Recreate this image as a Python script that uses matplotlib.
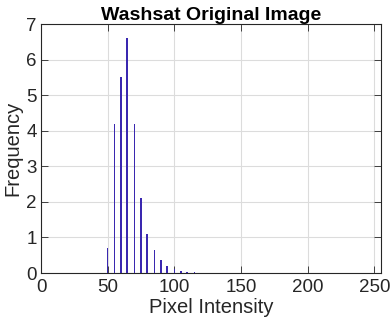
import numpy as np
import matplotlib
matplotlib.use("Agg")
import matplotlib.pyplot as plt

# Histogram bins (pixel intensity) and frequencies
intensity = [45, 50, 55, 60, 64, 65, 70, 75, 79, 80, 85, 90, 94, 95,
             100, 105, 109, 110, 115, 120, 125]
frequency = [0.01, 0.70, 4.20, 5.50, 6.60, 6.60, 4.20, 2.10, 1.10, 1.10,
             0.65, 0.37, 0.20, 0.20, 0.11, 0.06, 0.04, 0.04, 0.02, 0.01, 0.01]

x_ticks = [0, 50, 100, 150, 200, 250]
y_ticks = [0, 1, 2, 3, 4, 5, 6, 7]

plt.rcParams["font.family"] = ["Liberation Sans", "DejaVu Sans"]
text_color = "#262626"

fig = plt.figure(figsize=(3.92, 3.27), dpi=100)
ax = fig.add_axes([0.1046, 0.1651, 0.8674, 0.7615])

ax.bar(intensity, frequency, width=1.0, color="#3A28B0", edgecolor="none",
       antialiased=False, zorder=3)

ax.set_xlim(0, 255)
ax.set_ylim(0, 7)
ax.set_xticks(x_ticks)
ax.set_yticks(y_ticks)
ax.grid(True, color="#dcdcdc", linewidth=0.8, zorder=0)
ax.tick_params(direction="in", length=5, width=0.6, labelsize=13.5, colors=text_color,
               top=True, right=True, labeltop=False, labelright=False)
ax.tick_params(axis="x", pad=4)
ax.tick_params(axis="y", pad=3)
for spine in ax.spines.values():
    spine.set_color(text_color)
    spine.set_linewidth(0.8)

ax.set_xlabel("Pixel Intensity", fontsize=14.5, color=text_color, labelpad=2)
ax.set_ylabel("Frequency", fontsize=14.5, color=text_color, labelpad=3)
ax.set_title("Washsat Original Image", fontsize=14, fontweight="bold", pad=3)

fig.savefig("out.png", dpi=100)
plt.close(fig)
